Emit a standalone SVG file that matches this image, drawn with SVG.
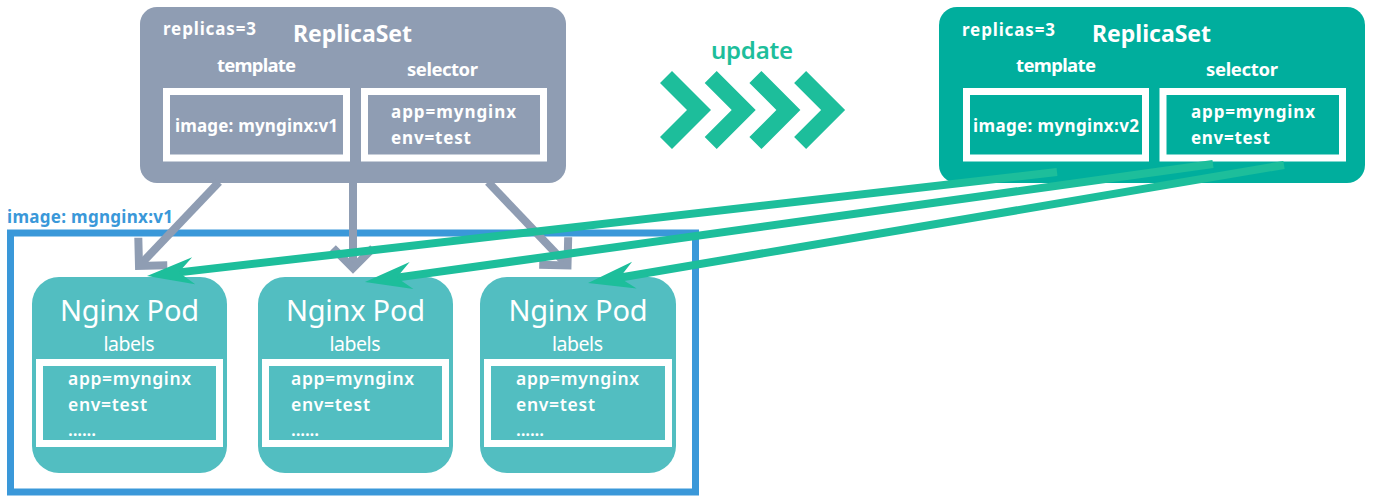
<svg xmlns="http://www.w3.org/2000/svg" width="1374" height="503" viewBox="0 0 1374 503">
<defs>
<style>
text{font-family:"Noto Sans","Open Sans","Liberation Sans",sans-serif;fill:#fff}
.b{font-weight:700}
.s16{font-size:17px}
.s17{font-size:18.5px}
.s21{font-size:23px}
.rs-gray{fill:#8f9db3}
.rs-teal{fill:#00ae9d}
.inbox{fill:none;stroke:#fff;stroke-width:7}
.pod{fill:#52bec1}
.podname{font-size:29px;text-anchor:middle}
.podlbl{font-size:19.5px;text-anchor:middle}
.podkv{font-size:17.5px;font-weight:600}
.gline{stroke:#8f9db3;stroke-width:8;fill:none}
.tline{stroke:#1dbe9b;stroke-width:8;fill:none}
</style>
<marker id="grayHead" markerUnits="userSpaceOnUse" orient="auto" overflow="visible" markerWidth="1" markerHeight="1" refX="0" refY="0">
<path d="M-20,-20 L0,0 L-20,20" fill="none" stroke="#8f9db3" stroke-width="8" stroke-linejoin="miter"/>
</marker>
<marker id="tealHead" markerUnits="userSpaceOnUse" orient="auto" overflow="visible" markerWidth="1" markerHeight="1" refX="0" refY="0">
<path d="M30,0 L-17,-13.6 L-2,0 L-17,13.6 Z" fill="#1dbe9b"/>
</marker>
<polygon id="chev" points="672,71 711,110 672,149 660,137 687,110 660,83" fill="#1dbe9b"/>
</defs>

<g id="pod-group">
<text x="7" y="223" class="b s16" style="fill:#3a98d9" textLength="166" lengthAdjust="spacing">image: mgnginx:v1</text>
<rect x="10.5" y="233" width="685" height="259" fill="none" stroke="#3a98d9" stroke-width="7"/>
</g>

<g id="replicaset-old">
<rect x="140" y="7" width="426" height="176" rx="17" class="rs-gray"/>
<text x="163" y="35" class="b s16" textLength="93" lengthAdjust="spacing">replicas=3</text>
<text x="293" y="42" class="b s21" textLength="119" lengthAdjust="spacing">ReplicaSet</text>
<text x="217" y="72" class="b s17" textLength="79" lengthAdjust="spacing">template</text>
<text x="407" y="76" class="b s17" textLength="71" lengthAdjust="spacing">selector</text>
<rect x="166.5" y="91.5" width="180" height="66.5" class="inbox"/>
<rect x="364.5" y="91.5" width="179" height="66.5" class="inbox"/>
<text x="175" y="132" class="b s16" textLength="163" lengthAdjust="spacing">image: mynginx:v1</text>
<text x="391" y="118" class="b s16" textLength="125" lengthAdjust="spacing">app=mynginx</text>
<text x="391" y="144" class="b s16" textLength="80" lengthAdjust="spacing">env=test</text>
</g>

<g id="replicaset-new">
<rect x="939" y="7" width="426" height="176" rx="18" class="rs-teal"/>
<text x="962" y="36" class="b s16" textLength="93" lengthAdjust="spacing">replicas=3</text>
<text x="1092" y="42" class="b s21" textLength="119" lengthAdjust="spacing">ReplicaSet</text>
<text x="1016" y="72" class="b s17" textLength="80" lengthAdjust="spacing">template</text>
<text x="1206" y="76" class="b s17" textLength="72" lengthAdjust="spacing">selector</text>
<rect x="966.5" y="91.5" width="179" height="66.5" class="inbox"/>
<rect x="1163" y="91.5" width="179.5" height="66.5" class="inbox"/>
<text x="973" y="132" class="b s16" textLength="166" lengthAdjust="spacing">image: mynginx:v2</text>
<text x="1191" y="118" class="b s16" textLength="124" lengthAdjust="spacing">app=mynginx</text>
<text x="1191" y="144" class="b s16" textLength="79" lengthAdjust="spacing">env=test</text>
</g>

<g id="update">
<text x="711" y="59" style="font-size:24px;font-weight:600;fill:#1dbe9b" textLength="82" lengthAdjust="spacing">update</text>
<use href="#chev"/>
<use href="#chev" x="44.7"/>
<use href="#chev" x="89.4"/>
<use href="#chev" x="134.1"/>
</g>

<g id="pod1">
<rect x="32" y="277" width="195" height="196" rx="27" class="pod"/>
<text x="129.5" y="321" class="podname" textLength="139" lengthAdjust="spacing">Nginx Pod</text>
<text x="129" y="351" class="podlbl" textLength="51" lengthAdjust="spacing">labels</text>
<rect x="39.5" y="362.5" width="180" height="81" class="inbox"/>
<text x="68" y="385" class="podkv" textLength="123" lengthAdjust="spacing">app=mynginx</text>
<text x="68" y="411" class="podkv" textLength="79" lengthAdjust="spacing">env=test</text>
<text x="68" y="436" class="podkv" textLength="28" lengthAdjust="spacing">......</text>
</g>

<g id="pod2">
<rect x="258" y="277" width="195" height="196" rx="27" class="pod"/>
<text x="355.5" y="321" class="podname" textLength="139" lengthAdjust="spacing">Nginx Pod</text>
<text x="355" y="351" class="podlbl" textLength="51" lengthAdjust="spacing">labels</text>
<rect x="265.5" y="362.5" width="180" height="81" class="inbox"/>
<text x="291" y="385" class="podkv" textLength="123" lengthAdjust="spacing">app=mynginx</text>
<text x="291" y="411" class="podkv" textLength="79" lengthAdjust="spacing">env=test</text>
<text x="291" y="436" class="podkv" textLength="28" lengthAdjust="spacing">......</text>
</g>

<g id="pod3">
<rect x="480" y="277" width="196" height="196" rx="27" class="pod"/>
<text x="578" y="321" class="podname" textLength="139" lengthAdjust="spacing">Nginx Pod</text>
<text x="577.5" y="351" class="podlbl" textLength="51" lengthAdjust="spacing">labels</text>
<rect x="487.5" y="362.5" width="181" height="81" class="inbox"/>
<text x="516" y="385" class="podkv" textLength="123" lengthAdjust="spacing">app=mynginx</text>
<text x="516" y="411" class="podkv" textLength="79" lengthAdjust="spacing">env=test</text>
<text x="516" y="436" class="podkv" textLength="28" lengthAdjust="spacing">......</text>
</g>

<g id="connectors">
<path d="M219,182 L139,266" class="gline" marker-end="url(#grayHead)"/>
<path d="M353,182 L353,268" class="gline" marker-end="url(#grayHead)"/>
<path d="M488,182 L567.5,265.5" class="gline" marker-end="url(#grayHead)"/>
<path d="M1057,172 L176.8,272.6" class="tline" marker-end="url(#tealHead)"/>
<path d="M1213,164 L394.7,277.9" class="tline" marker-end="url(#tealHead)"/>
<path d="M1284,165 L617.6,278" class="tline" marker-end="url(#tealHead)"/>
</g>
</svg>
